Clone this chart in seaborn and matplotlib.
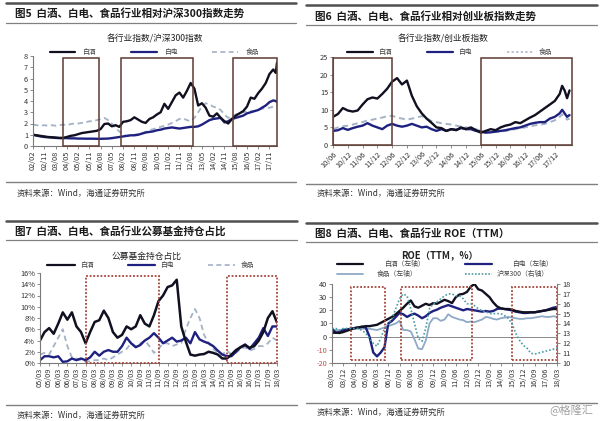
import matplotlib
matplotlib.use("Agg")
import matplotlib.pyplot as plt
import seaborn as sns
from matplotlib.lines import Line2D
from matplotlib.patches import Rectangle


def month(s):
    yy, mm = s.split('/')
    return int(yy) * 12 + int(mm) - 1


def every(start, stop, step):
    out = []
    for m in range(month(start), month(stop) + 1, step):
        out.append(f"{m // 12:02d}/{m % 12 + 1:02d}")
    return out


# ---------------- data ----------------
# fig 5: relative to CSI 300, quarterly
p5_dates = every("02/02", "18/02", 3) + ["18/04", "18/05"]
p5_baijiu = [1.00, 0.95, 0.90, 0.85, 0.80, 0.78, 0.75, 0.72,
             0.72, 0.80, 0.90, 0.95, 1.05, 1.15, 1.20, 1.25,
             1.30, 1.35, 1.50, 1.95, 2.00, 1.75, 1.85, 1.70,
             2.15, 2.20, 2.30, 2.55, 2.35, 2.15, 2.05, 2.40,
             2.55, 2.80, 3.00, 3.75, 3.30, 3.90, 4.50, 4.75,
             4.30, 4.90, 5.60, 5.10, 3.60, 3.80, 3.40, 2.70,
             2.60, 2.90, 2.50, 2.20, 2.00, 2.40, 2.70, 2.90,
             3.10, 3.50, 4.30, 4.20, 4.70, 5.10, 5.60, 6.40,
             6.80, 6.50, 7.40]
p5_baidian = [1.00, 0.92, 0.85, 0.80, 0.78, 0.75, 0.72, 0.70,
              0.70, 0.70, 0.68, 0.68, 0.66, 0.66, 0.65, 0.65,
              0.65, 0.64, 0.64, 0.65, 0.66, 0.70, 0.75, 0.80,
              0.85, 0.90, 0.95, 0.95, 1.00, 1.10, 1.20, 1.25,
              1.30, 1.40, 1.45, 1.55, 1.60, 1.65, 1.60, 1.55,
              1.60, 1.65, 1.70, 1.70, 1.75, 1.90, 2.10, 2.30,
              2.40, 2.45, 2.50, 2.10, 2.20, 2.40, 2.50, 2.60,
              2.70, 2.90, 3.00, 3.10, 3.20, 3.40, 3.60, 3.90,
              4.05, 4.00, 3.90]
p5_food = [1.90, 1.85, 1.80, 1.85, 1.80, 1.85, 1.80, 1.85,
           1.90, 1.85, 1.95, 2.00, 2.00, 2.05, 2.10, 2.20,
           2.20, 2.30, 2.40, 2.50, 2.30, 2.00, 1.60, 1.30,
           1.00, 0.90, 0.95, 1.00, 1.05, 1.10, 1.25, 1.40,
           1.50, 1.60, 1.70, 1.80, 1.90, 2.05, 2.20, 2.40,
           2.45, 2.30, 2.20, 2.50, 3.00, 3.50, 3.80, 3.70,
           3.50, 3.40, 3.20, 2.80, 2.50, 2.60, 2.80, 2.90,
           3.00, 3.05, 3.10, 3.10, 3.20, 3.30, 3.40, 3.40,
           3.50, 3.55, 3.60]
p5_ticks = ["02/02", "02/11", "03/08", "04/05", "05/02", "05/11", "06/08", "07/05",
            "08/02", "08/11", "09/08", "10/05", "11/02", "11/11", "12/08", "13/05",
            "14/02", "14/11", "15/08", "16/05", "17/02", "17/11"]
p5_boxes = [("04/02", "06/07"), ("07/12", "12/10"), ("15/06", "18/05")]

# fig 6: relative to ChiNext, bimonthly
p6_dates = every("10/06", "17/12", 2) + ["18/02", "18/03", "18/04", "18/05", "18/06"]
p6_baijiu = [8.0, 8.8, 10.5, 9.8, 9.5, 9.8, 11.5, 13.0, 13.5, 13.2,
             14.5, 16.0, 18.0, 19.0, 17.2, 18.3, 14.0, 11.0, 9.0, 7.5,
             6.3, 5.0, 4.8, 4.0, 4.5, 4.2, 5.0, 4.5, 5.0, 4.2,
             3.5, 4.0, 4.5, 4.2, 5.0, 5.5, 5.8, 6.5, 6.2, 7.0,
             7.8, 8.5, 9.5, 10.5, 11.5, 12.5, 14.5, 16.8, 15.5, 13.3, 15.5]
p6_baidian = [4.0, 4.2, 4.8, 4.3, 4.8, 5.2, 5.5, 6.2, 5.5, 5.0,
              4.5, 5.5, 6.0, 5.5, 5.2, 5.5, 6.0, 5.5, 5.0, 5.2,
              4.5, 4.0, 4.5, 4.0, 4.5, 4.3, 4.8, 4.5, 4.5, 4.0,
              3.8, 3.5, 3.6, 3.8, 4.0, 4.2, 4.5, 4.8, 5.0, 5.5,
              6.0, 6.3, 6.5, 6.5, 7.5, 8.0, 9.0, 10.0, 9.0, 8.0, 8.5]
p6_food = [4.5, 5.0, 5.3, 5.5, 5.8, 6.2, 6.5, 7.0, 7.2, 7.5,
           7.8, 8.2, 8.3, 7.8, 7.5, 7.2, 7.5, 7.8, 8.2, 7.5,
           6.8, 6.5, 6.2, 6.0, 5.8, 5.5, 5.2, 5.0, 4.8, 4.5,
           4.0, 3.8, 4.0, 3.8, 3.8, 4.0, 4.2, 4.5, 4.8, 5.0,
           5.3, 5.6, 5.8, 6.0, 6.5, 7.0, 8.0, 8.7, 8.0, 7.2, 7.5]
p6_ticks = ["10/06", "10/12", "11/06", "11/12", "12/06", "12/12", "13/06", "13/12",
            "14/06", "14/12", "15/06", "15/12", "16/06", "16/12", "17/06", "17/12"]
p6_boxes = [("10/06", "12/06"), ("15/06", "18/07")]

# fig 7: mutual fund holdings share (%), quarterly
p7_dates = every("05/03", "18/03", 3)
p7_baijiu = [4.0, 5.5, 6.2, 5.2, 7.0, 9.0, 7.7, 9.0, 6.5, 5.5, 3.5, 5.5,
             7.3, 7.6, 9.3, 8.0, 5.5, 4.5, 5.0, 6.5, 6.0, 6.5, 8.5, 7.0,
             6.5, 8.5, 11.0, 12.0, 13.5, 13.8, 14.8, 6.5, 3.8, 1.5, 1.3, 1.5,
             1.6, 2.0, 1.8, 1.5, 0.8, 0.8, 1.5, 2.3, 2.8, 3.2, 2.7, 3.0,
             4.0, 5.5, 8.0, 9.2, 7.2]
p7_baidian = [0.5, 1.2, 1.2, 1.0, 1.2, 0.2, 0.3, 0.8, 0.5, 0.8, 0.5, 1.0,
              2.0, 1.3, 2.0, 2.3, 2.0, 2.0, 3.0, 4.5, 3.5, 2.8, 3.2, 4.0,
              4.5, 5.3, 4.5, 3.5, 4.0, 4.5, 3.8, 4.0, 4.5, 3.5, 5.5, 4.2,
              3.8, 3.5, 3.0, 2.2, 1.5, 1.2, 1.2, 2.0, 2.8, 3.3, 2.5, 3.5,
              4.5, 6.2, 4.8, 6.5, 6.5]
p7_food = [1.5, 1.8, 1.5, 3.0, 4.5, 6.0, 3.0, 1.0, 0.8, 0.5, 0.3, 0.3,
           0.5, 0.5, 0.8, 0.5, 1.0, 1.5, 2.0, 2.5, 3.5, 3.0, 3.5, 4.0,
           3.0, 1.8, 2.5, 3.5, 3.5, 3.0, 3.3, 3.5, 6.0, 8.0, 9.6, 8.0,
           5.0, 3.5, 2.5, 1.8, 1.5, 2.2, 1.5, 1.8, 2.5, 2.8, 2.2, 2.5,
           3.0, 3.0, 3.5, 4.5, 4.0]
p7_ticks = ["05/03", "05/09", "06/03", "06/09", "07/03", "07/09", "08/03", "08/09",
            "09/03", "09/09", "10/03", "10/09", "11/03", "11/09", "12/03", "12/09",
            "13/03", "13/09", "14/03", "14/09", "15/03", "15/09", "16/03", "16/09",
            "17/03", "17/09", "18/03"]
p7_boxes = [("07/09", "11/09"), ("15/06", "18/03")]

# fig 8: ROE (TTM, %), quarterly
p8_dates = every("03/03", "18/03", 3)
p8_baijiu = [3.0, 3.0, 2.8, 3.5, 4.5, 5.5, 6.5, 7.0, 7.5, 8.0, 8.0, 8.5,
             9.0, 10.5, 12.0, 13.5, 15.0, 17.0, 19.5, 22.0, 25.0, 27.5, 23.0, 22.0,
             23.5, 25.0, 24.0, 25.5, 25.0, 26.5, 28.0, 27.0, 25.5, 30.0, 32.0, 32.5,
             34.0, 38.0, 40.0, 36.0, 35.0, 32.5, 30.0, 26.0, 23.0, 21.5, 21.0, 21.0,
             20.5, 19.5, 19.0, 18.5, 18.5, 18.5, 18.5, 19.0, 19.5, 20.0, 20.5, 21.0,
             21.0]
p8_baidian = [6.0, 3.0, 3.5, 5.0, 5.5, 6.0, 6.5, 7.0, 7.5, 7.0, 0.0, -12.0,
              -15.0, -12.0, -8.0, 10.0, 12.0, 15.0, 18.0, 17.0, 15.0, 16.5, 17.5, 16.0,
              14.0, 15.5, 18.0, 19.5, 20.5, 22.0, 23.0, 24.0, 23.0, 22.0, 21.0, 20.0,
              21.0, 20.5, 20.0, 19.5, 19.0, 19.5, 19.0, 19.5, 21.0, 21.5, 21.0, 20.5,
              20.0, 19.0, 18.5, 18.0, 18.0, 18.5, 18.5, 19.0, 19.5, 20.0, 21.0, 22.0,
              22.5]
p8_food = [5.0, 5.0, 5.0, 5.5, 5.5, 6.0, 6.0, 6.0, 6.0, 6.0, 6.0, 5.5,
           5.0, 6.0, 7.0, 8.0, 9.0, 10.0, 12.0, 5.0, 5.0, 4.0, -2.0, -9.0,
           -9.5, -3.0, 10.0, 14.0, 14.0, 12.0, 13.0, 17.0, 15.0, 14.0, 13.0, 12.5,
           11.0, 11.5, 11.0, 12.0, 13.0, 15.0, 14.5, 13.5, 13.0, 14.0, 14.5, 15.0,
           14.5, 14.0, 13.5, 13.5, 14.0, 14.0, 14.5, 15.0, 15.5, 15.0, 15.0, 15.5,
           15.0]
p8_hs300 = [13.5, 13.5, 13.3, 13.5, 13.5, 13.5, 13.5, 13.5, 13.3, 13.0, 12.5, 12.0,
            11.7, 12.5, 13.5, 14.0, 14.5, 15.5, 16.5, 17.0, 16.8, 15.5, 14.0, 12.5,
            12.2, 13.5, 15.5, 16.0, 16.2, 16.5, 16.8, 17.0, 17.0, 16.8, 16.8, 16.5,
            16.0, 16.0, 15.8, 15.5, 15.3, 15.2, 15.0, 15.0, 15.0, 15.0, 14.8, 14.5,
            14.0, 13.0, 12.3, 11.8, 11.5, 11.0, 10.9, 11.0, 11.1, 11.2, 11.3, 11.4,
            11.5]
p8_ticks = ["03/03", "03/12", "04/09", "05/06", "06/03", "06/12", "07/09", "08/06",
            "09/03", "09/12", "10/09", "11/06", "12/03", "12/12", "13/09", "14/06",
            "15/03", "15/12", "16/09", "17/06", "18/03"]
p8_boxes = [("04/06", "06/09"), ("07/10", "12/07"), ("15/03", "18/03")]

# ---------------- style ----------------
sns.set_style("white")
plt.rcParams['font.family'] = ['Noto Sans CJK SC', 'DejaVu Sans']
plt.rcParams['axes.unicode_minus'] = False

C_BAIJIU = '#101020'
C_BAIDIAN = '#1f2180'
C_FOOD = '#a3b2c6'
C_FOOD8 = '#8eaac6'
C_HS300 = '#4a9ea4'
C_BOX = '#5e3b33'
C_BOX2 = '#a5443a'
SOURCE = "资料来源：Wind，海通证券研究所"

W, H = 600, 421
fig = plt.figure(figsize=(6, 4.21), dpi=100)


def fx(x):
    return x / W


def fy(y):
    return 1 - y / H


def hline(y, x0, x1, lw, color):
    fig.add_artist(Line2D([fx(x0), fx(x1)], [fy(y), fy(y)], lw=lw, color=color))


def frame(x0, x1, y_top, y_title, y_under, title, y_src_line, y_src):
    hline(y_top, x0, x1, 1.8, '#505050')
    fig.text(fx(x0 + 9), fy(y_title), title, fontsize=7.6, fontweight='bold',
             va='center', ha='left', color='#1a1a1a')
    hline(y_under, x0, x1, 0.9, '#808080')
    hline(y_src_line, x0, x1, 1.0, '#808080')
    fig.text(fx(x0 + 11), fy(y_src), SOURCE, fontsize=6.0, va='center', ha='left', color='#333333')


def legend_item(x0, x1, y, label, tx, color, ls='-', lw=1.6):
    fig.add_artist(Line2D([fx(x0), fx(x1)], [fy(y), fy(y)], color=color, lw=lw, linestyle=ls))
    fig.text(fx(tx), fy(y), label, fontsize=4.9, va='center', ha='left', color='#444444')


def axes_at(l, t, r, b):
    return fig.add_axes([l / W, 1 - b / H, (r - l) / W, (b - t) / H])


def xs(dates, start):
    return [month(d) - month(start) for d in dates]


def style_axes(ax, start, ticks, rot):
    for s in ['top', 'right']:
        ax.spines[s].set_visible(False)
    for s in ['left', 'bottom']:
        ax.spines[s].set_color('#7a7a7a')
        ax.spines[s].set_linewidth(0.8)
    ax.set_xticks(xs(ticks, start))
    if rot == 45:
        ax.set_xticklabels(ticks, rotation=45, ha='right', rotation_mode='anchor')
    else:
        ax.set_xticklabels(ticks, rotation=90)
    ax.tick_params(axis='both', direction='out', length=2, width=0.6, color='#7a7a7a',
                   labelsize=5.3, pad=1.5, bottom=True, left=True, labelcolor='#333333')
    ax.set_xlabel('')
    ax.set_ylabel('')


def boxes(ax, start, spans, y0, y1, color, ls, lw):
    for a, b in spans:
        xa, xb = month(a) - month(start), month(b) - month(start)
        ax.add_patch(Rectangle((xa, y0), xb - xa, y1 - y0, fill=False, edgecolor=color,
                               lw=lw, linestyle=ls, clip_on=False, zorder=5))


def line(ax, x, y, color, lw, ls='-'):
    sns.lineplot(x=x, y=y, ax=ax, color=color, linewidth=lw, linestyle=ls)


# ---------------- figure 5 ----------------
frame(6, 296, 3, 13, 23, "图5  白酒、白电、食品行业相对沪深300指数走势", 182, 193)
fig.text(fx(155), fy(39), "各行业指数/沪深300指数", fontsize=6.3, ha='center', va='center', color='#222222')
legend_item(50, 75, 52, "白酒", 82, C_BAIJIU)
legend_item(131, 157, 52, "白电", 164, C_BAIDIAN)
legend_item(212, 238, 52, "食品", 246, C_FOOD, ls=(0, (3, 2)), lw=1.2)
ax5 = axes_at(33, 56, 277, 146)
x5 = xs(p5_dates, "02/02")
line(ax5, x5, p5_food, C_FOOD, 1.3, (0, (3, 2)))
line(ax5, x5, p5_baidian, C_BAIDIAN, 1.7)
line(ax5, x5, p5_baijiu, C_BAIJIU, 1.7)
ax5.set_xlim(0, 195)
ax5.set_ylim(0, 8)
ax5.set_yticks(range(0, 9))
style_axes(ax5, "02/02", p5_ticks, 90)
boxes(ax5, "02/02", p5_boxes, 0, 7.85, C_BOX, '-', 1.1)

# ---------------- figure 6 ----------------
frame(306, 597, 5, 16, 25, "图6  白酒、白电、食品行业相对创业板指数走势", 184, 193)
fig.text(fx(443), fy(39), "各行业指数/创业板指数", fontsize=6.3, ha='center', va='center', color='#222222')
legend_item(347, 373, 52, "白酒", 378, C_BAIJIU)
legend_item(427, 453, 52, "白电", 458, C_BAIDIAN)
legend_item(507, 533, 52, "食品", 539, C_FOOD, ls=(0, (1.5, 1.5)), lw=1.1)
ax6 = axes_at(333, 57, 572, 145)
x6 = xs(p6_dates, "10/06")
line(ax6, x6, p6_food, C_FOOD, 1.4, (0, (3, 2)))
line(ax6, x6, p6_baidian, C_BAIDIAN, 1.7)
line(ax6, x6, p6_baijiu, C_BAIJIU, 1.7)
ax6.set_xlim(0, 97)
ax6.set_ylim(0, 25)
ax6.set_yticks(range(0, 26, 5))
style_axes(ax6, "10/06", p6_ticks, 45)
boxes(ax6, "10/06", p6_boxes, 0, 24.8, C_BOX, '-', 1.1)

# ---------------- figure 7 ----------------
frame(6, 297, 221, 231, 240, "图7  白酒、白电、食品行业公募基金持仓占比", 405, 415)
fig.text(fx(147), fy(256), "公募基金持仓占比", fontsize=6.3, ha='center', va='center', color='#222222')
legend_item(47, 75, 265, "白酒", 80, C_BAIJIU)
legend_item(128, 155, 265, "白电", 160, C_BAIDIAN)
legend_item(208, 235, 265, "食品", 241, C_FOOD, ls=(0, (3, 2)), lw=1.2)
ax7 = axes_at(40, 273, 277, 363)
x7 = xs(p7_dates, "05/03")
line(ax7, x7, p7_food, C_FOOD, 1.3, (0, (3, 2)))
line(ax7, x7, p7_baidian, C_BAIDIAN, 1.7)
line(ax7, x7, p7_baijiu, C_BAIJIU, 1.8)
ax7.set_xlim(0, 156)
ax7.set_ylim(0, 16)
ax7.set_yticks(range(0, 17, 2))
ax7.set_yticklabels([f"{v}%" for v in range(0, 17, 2)])
style_axes(ax7, "05/03", p7_ticks, 90)
boxes(ax7, "05/03", p7_boxes, 0, 15.5, C_BOX2, (0, (1, 1)), 1.3)

# ---------------- figure 8 ----------------
frame(306, 597, 223, 234, 242, "图8  白酒、白电、食品行业 ROE（TTM）", 403, 412)
fig.text(fx(440), fy(255), "ROE（TTM，%）", fontsize=6.8, fontweight='bold',
         ha='center', va='center', color='#222222')
legend_item(337, 363, 264, "白酒（左轴）", 384, C_BAIJIU)
legend_item(465, 492, 264, "白电（左轴）", 512, C_BAIDIAN)
legend_item(337, 363, 274, "食品（左轴）", 377, C_FOOD8, lw=1.3)
legend_item(465, 492, 274, "沪深300（右轴）", 497, C_HS300, ls=(0, (1, 1)), lw=1.2)
ax8 = axes_at(332, 284, 557, 363)
x8 = xs(p8_dates, "03/03")
ax8.axhline(0, color='#8a8a8a', lw=0.7, zorder=1)
line(ax8, x8, p8_food, C_FOOD8, 1.3)
line(ax8, x8, p8_baidian, C_BAIDIAN, 1.7)
line(ax8, x8, p8_baijiu, C_BAIJIU, 1.7)
ax8.set_xlim(0, 180)
ax8.set_ylim(-20, 40)
ax8.set_yticks(range(-20, 41, 10))
style_axes(ax8, "03/03", p8_ticks, 90)
for lab in ax8.get_yticklabels():
    if lab.get_text().startswith('-') or lab.get_text().startswith('−'):
        lab.set_color('#c0504d')
ax8r = ax8.twinx()
line(ax8r, x8, p8_hs300, C_HS300, 1.2, (0, (1, 1.2)))
ax8r.set_ylim(10, 18)
ax8r.set_yticks(range(10, 19))
ax8r.set_ylabel('')
for s in ['top', 'left', 'bottom']:
    ax8r.spines[s].set_visible(False)
ax8r.spines['right'].set_color('#7a7a7a')
ax8r.spines['right'].set_linewidth(0.8)
ax8r.tick_params(axis='y', direction='out', length=2, width=0.6, color='#7a7a7a',
                 labelsize=5.3, pad=1.5, right=True, labelcolor='#333333')
boxes(ax8, "03/03", p8_boxes, -18, 37.5, C_BOX2, (0, (1, 1)), 1.3)

fig.text(fx(571), fy(410), "@格隆汇", fontsize=8, ha='center', va='center', color='#a0a0a0')

fig.savefig("out.png", dpi=100)
